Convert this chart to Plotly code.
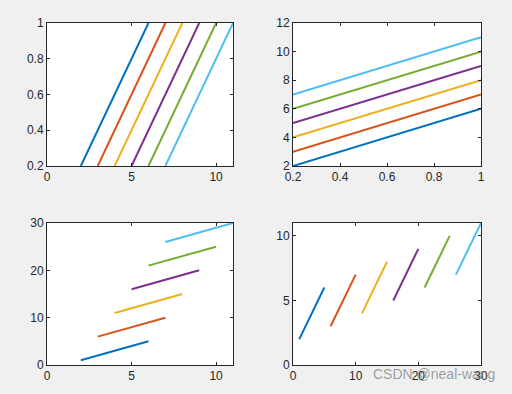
import plotly.graph_objects as go

X = [0.2, 0.4, 0.6, 0.8, 1.0]
Y1 = [2, 3, 4, 5, 6]
Y2 = [3, 4, 5, 6, 7]
Y3 = [4, 5, 6, 7, 8]
Y4 = [5, 6, 7, 8, 9]
Y5 = [6, 7, 8, 9, 10]
Y6 = [7, 8, 9, 10, 11]
Z1 = [1, 2, 3, 4, 5]
Z2 = [6, 7, 8, 9, 10]
Z3 = [11, 12, 13, 14, 15]
Z4 = [16, 17, 18, 19, 20]
Z5 = [21, 22, 23, 24, 25]
Z6 = [26, 27, 28, 29, 30]
YS = [Y1, Y2, Y3, Y4, Y5, Y6]
ZS = [Z1, Z2, Z3, Z4, Z5, Z6]
COLORS = ["#0072BD", "#D95319", "#EDB120", "#7E2F8E", "#77AC30", "#4DBEEE"]

fig = go.Figure()

# subplot 1: plot(Y, X)
for y, c in zip(YS, COLORS):
    fig.add_trace(go.Scatter(x=y, y=X, mode="lines", line=dict(color=c, width=2), xaxis="x", yaxis="y"))
# subplot 2: plot(X, Y)
for y, c in zip(YS, COLORS):
    fig.add_trace(go.Scatter(x=X, y=y, mode="lines", line=dict(color=c, width=2), xaxis="x2", yaxis="y2"))
# subplot 3: plot(Y, Z)
for y, z, c in zip(YS, ZS, COLORS):
    fig.add_trace(go.Scatter(x=y, y=z, mode="lines", line=dict(color=c, width=2), xaxis="x3", yaxis="y3"))
# subplot 4: plot(Z, Y)
for y, z, c in zip(YS, ZS, COLORS):
    fig.add_trace(go.Scatter(x=z, y=y, mode="lines", line=dict(color=c, width=2), xaxis="x4", yaxis="y4"))

ax_common = dict(showline=True, mirror="ticks", linecolor="#262626", linewidth=1,
                 ticks="inside", ticklen=3, tickcolor="#262626", showgrid=False,
                 zeroline=False, automargin=False,
                 tickfont=dict(family="Liberation Sans, Arial", size=12, color="#262626"))

L = [47/512, 233/512]
R = [293/512, 481/512]
T = [1-166/394, 1-23/394]
B = [1-365/394, 1-223/394]

fig.update_layout(
    template="none",
    width=512, height=394,
    margin=dict(l=0, r=0, t=0, b=0, pad=0),
    paper_bgcolor="#F0F0F0", plot_bgcolor="white",
    showlegend=False,
    hovermode=False,
    xaxis=dict(domain=L, anchor="y", range=[0, 11], tickvals=[0, 5, 10], **ax_common),
    yaxis=dict(domain=T, anchor="x", range=[0.2, 1], tickvals=[0.2, 0.4, 0.6, 0.8, 1],
               ticktext=["0.2", "0.4", "0.6", "0.8", "1"], **ax_common),
    xaxis2=dict(domain=R, anchor="y2", range=[0.2, 1], tickvals=[0.2, 0.4, 0.6, 0.8, 1],
                ticktext=["0.2", "0.4", "0.6", "0.8", "1"], **ax_common),
    yaxis2=dict(domain=T, anchor="x2", range=[2, 12], tickvals=[2, 4, 6, 8, 10, 12], **ax_common),
    xaxis3=dict(domain=L, anchor="y3", range=[0, 11], tickvals=[0, 5, 10], **ax_common),
    yaxis3=dict(domain=B, anchor="x3", range=[0, 30], tickvals=[0, 10, 20, 30], **ax_common),
    xaxis4=dict(domain=R, anchor="y4", range=[0, 30], tickvals=[0, 10, 20, 30], **ax_common),
    yaxis4=dict(domain=B, anchor="x4", range=[0, 11], tickvals=[0, 5, 10], **ax_common),
    annotations=[dict(text="CSDN @neal-wang", x=497/512, y=1-374/394, xref="paper", yref="paper",
                      xanchor="right", yanchor="middle", showarrow=False,
                      font=dict(family="Liberation Sans, Arial", size=14, color="rgba(120,120,120,0.7)"))],
)

fig.write_html("out.html", config={"displayModeBar": False},
               post_script="document.body.style.margin='0';document.body.style.overflow='hidden';")
